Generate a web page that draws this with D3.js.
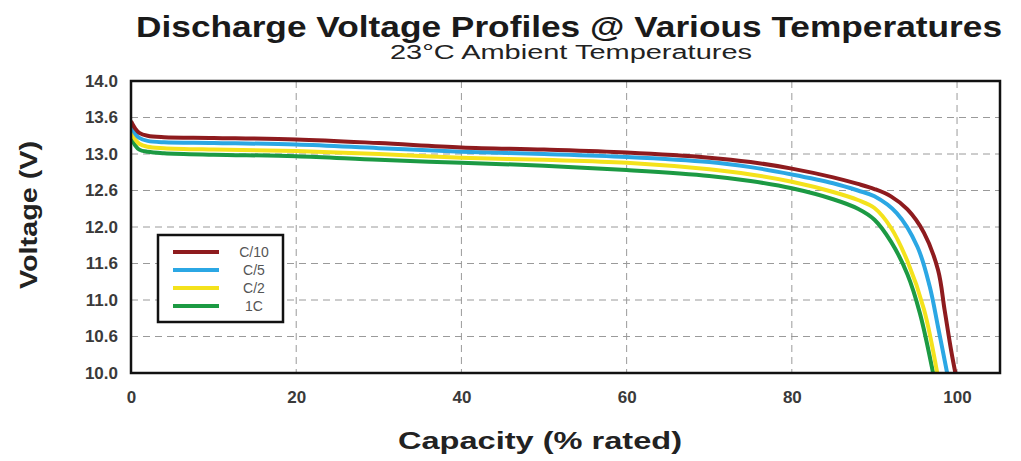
<!DOCTYPE html>
<html>
<head>
<meta charset="utf-8">
<script src="https://cdnjs.cloudflare.com/ajax/libs/d3/7.8.5/d3.min.js"></script>
<style>
  body { margin: 0; background: #fff; }
  text { font-family: "Liberation Sans", Arial, sans-serif; }
</style>
</head>
<body>
<svg id="canvas"></svg>
<script>
// Series names and colours
var seriesNames = ['C/10', 'C/5', 'C/2', '1C'];
var seriesColors = ['#8e1b1e', '#2ba7e4', '#f4e21c', '#1c9a43'];

// Capacity (% rated) and voltage points
var c10Capacity = [0, 0.5, 1, 2, 4, 10, 20, 30, 40, 50, 60, 70, 75, 80, 85, 88, 90, 92, 94, 96, 97.7, 98.5, 99.3, 99.8];
var c10Voltage = [13.45, 13.35, 13.29, 13.25, 13.23, 13.22, 13.2, 13.15, 13.09, 13.06, 13.02, 12.95, 12.89, 12.8, 12.68, 12.59, 12.52, 12.42, 12.24, 11.92, 11.41, 10.86, 10.3, 10.0];

var c5Capacity = [0, 0.5, 1, 2, 4, 10, 20, 30, 40, 50, 60, 70, 75, 80, 85, 88, 90, 92.7, 95.2, 96.7, 97.7, 98.8];
var c5Voltage = [13.38, 13.28, 13.22, 13.18, 13.16, 13.15, 13.13, 13.08, 13.03, 13.0, 12.96, 12.89, 12.82, 12.72, 12.6, 12.5, 12.42, 12.19, 11.73, 11.18, 10.63, 10.0];

var c2Capacity = [0, 0.5, 1, 2, 4, 10, 20, 30, 40, 50, 60, 70, 75, 80, 85, 88, 90, 92, 94, 96, 97.6];
var c2Voltage = [13.3, 13.2, 13.14, 13.1, 13.08, 13.06, 13.04, 13.0, 12.95, 12.92, 12.88, 12.79, 12.72, 12.62, 12.48, 12.37, 12.26, 11.99, 11.53, 10.87, 10.0];

var c1Capacity = [0, 0.5, 1, 2, 4, 10, 20, 30, 40, 50, 60, 70, 75, 80, 85, 88, 90, 92, 94, 95.5, 97.1];
var c1Voltage = [13.23, 13.12, 13.06, 13.03, 13.01, 12.99, 12.97, 12.92, 12.88, 12.84, 12.78, 12.7, 12.63, 12.53, 12.38, 12.25, 12.1, 11.8, 11.35, 10.82, 10.0];

// Axis ticks
var xTicks = [0, 20, 40, 60, 80, 100];
var yTicks = [10, 10.5, 11, 11.5, 12, 12.5, 13, 13.5, 14];
var yTickLabels = ['10.0', '10.6', '11.0', '11.6', '12.0', '12.6', '13.0', '13.6', '14.0'];

// Canvas size
var canvasWidth = 1021;
var canvasHeight = 461;

// Plot box
var plot = { left: 131, right: 1000, top: 81, bottom: 373 };

var svg = d3.select('#canvas')
  .attr('width', canvasWidth)
  .attr('height', canvasHeight);

// Scales
var xScale = d3.scaleLinear()
  .domain([0, 105.2])
  .range([plot.left, plot.right]);

var yScale = d3.scaleLinear()
  .domain([10, 14])
  .range([plot.bottom, plot.top]);

// Titles
svg.append('text')
  .attr('x', 569)
  .attr('y', 37)
  .attr('text-anchor', 'middle')
  .attr('font-size', 29)
  .attr('font-weight', 'bold')
  .attr('fill', '#1a1a1a')
  .attr('textLength', 866)
  .attr('lengthAdjust', 'spacingAndGlyphs')
  .text('Discharge Voltage Profiles @ Various Temperatures');

svg.append('text')
  .attr('x', 571)
  .attr('y', 59)
  .attr('text-anchor', 'middle')
  .attr('font-size', 20)
  .attr('fill', '#222')
  .attr('textLength', 362)
  .attr('lengthAdjust', 'spacingAndGlyphs')
  .text('23\u00B0C Ambient Temperatures');

// Grid lines
var grid = svg.append('g')
  .attr('stroke', '#9a9a9a')
  .attr('stroke-width', 1)
  .attr('stroke-dasharray', '7,5');

grid.selectAll('.vgrid')
  .data(xTicks.slice(1))
  .enter()
  .append('line')
  .attr('x1', function(d) { return xScale(d); })
  .attr('x2', function(d) { return xScale(d); })
  .attr('y1', plot.top)
  .attr('y2', plot.bottom);

grid.selectAll('.hgrid')
  .data(yTicks.slice(1, -1))
  .enter()
  .append('line')
  .attr('x1', plot.left)
  .attr('x2', plot.right)
  .attr('y1', function(d) { return yScale(d); })
  .attr('y2', function(d) { return yScale(d); });

// Axes
var xAxis = d3.axisBottom(xScale)
  .tickValues(xTicks)
  .tickSize(0)
  .tickPadding(18);

var yAxis = d3.axisLeft(yScale)
  .tickValues(yTicks)
  .tickSize(0)
  .tickPadding(13)
  .tickFormat(function(d, i) { return yTickLabels[i]; });

var gx = svg.append('g')
  .attr('transform', 'translate(0,' + plot.bottom + ')')
  .call(xAxis);

var gy = svg.append('g')
  .attr('transform', 'translate(' + plot.left + ',0)')
  .call(yAxis);

[gx, gy].forEach(function(g) {
  g.select('.domain').remove();
  g.selectAll('text')
    .attr('font-family', '"Liberation Sans", Arial, sans-serif')
    .attr('font-size', 17)
    .attr('font-weight', 'bold')
    .attr('fill', '#3a3a3a');
});

// Axis titles
svg.append('text')
  .attr('x', 540)
  .attr('y', 449)
  .attr('text-anchor', 'middle')
  .attr('font-size', 23)
  .attr('font-weight', 'bold')
  .attr('fill', '#222')
  .attr('textLength', 284)
  .attr('lengthAdjust', 'spacingAndGlyphs')
  .text('Capacity (% rated)');

svg.append('text')
  .attr('transform', 'translate(37,215) rotate(-90)')
  .attr('text-anchor', 'middle')
  .attr('font-size', 23)
  .attr('font-weight', 'bold')
  .attr('fill', '#222')
  .attr('textLength', 148)
  .attr('lengthAdjust', 'spacingAndGlyphs')
  .text('Voltage (V)');

// Data lines
var series = [
  { capacity: c10Capacity, voltage: c10Voltage },
  { capacity: c5Capacity, voltage: c5Voltage },
  { capacity: c2Capacity, voltage: c2Voltage },
  { capacity: c1Capacity, voltage: c1Voltage }
];

svg.append('clipPath')
  .attr('id', 'plot-clip')
  .append('rect')
  .attr('x', plot.left)
  .attr('y', plot.top)
  .attr('width', plot.right - plot.left)
  .attr('height', plot.bottom - plot.top);

var line = d3.line()
  .x(function(d) { return xScale(d[0]); })
  .y(function(d) { return yScale(d[1]); })
  .curve(d3.curveCatmullRom.alpha(0.5));

// Draw green first so the red ends on top
var lines = svg.append('g')
  .attr('clip-path', 'url(#plot-clip)');

for (var i = series.length - 1; i >= 0; i--) {
  var pts = series[i].capacity.map(function(c, j) {
    return [c, series[i].voltage[j]];
  });
  lines.append('path')
    .datum(pts)
    .attr('d', line)
    .attr('fill', 'none')
    .attr('stroke', seriesColors[i])
    .attr('stroke-width', 4)
    .attr('stroke-linejoin', 'round');
}

// Plot border
svg.append('rect')
  .attr('x', plot.left)
  .attr('y', plot.top)
  .attr('width', plot.right - plot.left)
  .attr('height', plot.bottom - plot.top)
  .attr('fill', 'none')
  .attr('stroke', '#111')
  .attr('stroke-width', 2.5);

// Legend
var legend = svg.append('g');

legend.append('rect')
  .attr('x', 158)
  .attr('y', 235)
  .attr('width', 125)
  .attr('height', 87)
  .attr('fill', '#fff')
  .attr('stroke', '#111')
  .attr('stroke-width', 2.5);

var legendRows = legend.selectAll('.legend-row')
  .data(seriesNames)
  .enter()
  .append('g')
  .attr('transform', function(d, i) { return 'translate(0,' + (252 + i * 18) + ')'; });

legendRows.append('line')
  .attr('x1', 173)
  .attr('x2', 219)
  .attr('stroke', function(d, i) { return seriesColors[i]; })
  .attr('stroke-width', 4);

legendRows.append('text')
  .attr('x', 254)
  .attr('y', 5)
  .attr('text-anchor', 'middle')
  .attr('font-size', 14)
  .attr('fill', '#555')
  .text(function(d) { return d; });
</script>
</body>
</html>
